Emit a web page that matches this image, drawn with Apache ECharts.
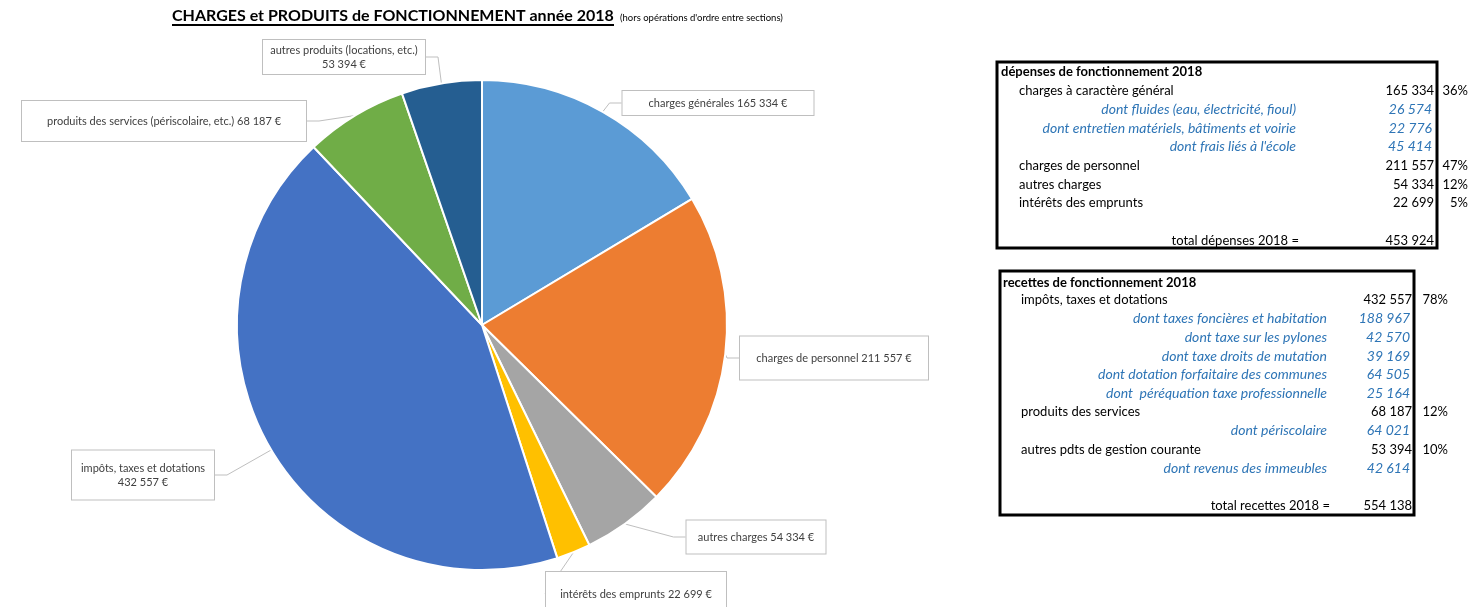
<!DOCTYPE html>
<html>
<head>
<meta charset="utf-8">
<script src="https://cdn.jsdelivr.net/npm/echarts@6/dist/echarts.min.js"></script>
<style>
html,body{margin:0;padding:0;background:#fff;}
#chart{width:1472px;height:607px;}
</style>
</head>
<body>
<div id="chart"></div>
<script>
// ---- pie data ----
const pieNames = ['charges générales', 'charges de personnel', 'autres charges', 'intérêts des emprunts',
  'impôts, taxes et dotations', 'produits des services (périscolaire, etc.)', 'autres produits (locations, etc.)'];
const pieValues = [165334, 211557, 54334, 22699, 432557, 68187, 53394];
const pieSep = [' ', ' ', ' ', ' ', '\n', ' ', '\n'];
const pieColors = ['#5B9BD5', '#ED7D31', '#A5A5A5', '#FFC000', '#4472C4', '#70AD47', '#255E91'];

// ---- table: dépenses ----
const depTitle = 'dépenses de fonctionnement 2018';
const depLabels = ['charges à caractère général', 'dont fluides (eau, électricité, fioul)',
  'dont entretien matériels, bâtiments et voirie', "dont frais liés à l'école",
  'charges de personnel', 'autres charges', 'intérêts des emprunts', '', 'total dépenses 2018 ='];
const depValues = [165334, 26574, 22776, 45414, 211557, 54334, 22699, null, 453924];
const depPct = ['36%', '', '', '', '47%', '12%', '5%', '', ''];
const depKind = ['main', 'sub', 'sub', 'sub', 'main', 'main', 'main', 'blank', 'total'];

// ---- table: recettes ----
const recTitle = 'recettes de fonctionnement 2018';
const recLabels = ['impôts, taxes et dotations', 'dont taxes foncières et habitation', 'dont taxe sur les pylones',
  'dont taxe droits de mutation', 'dont dotation forfaitaire des communes', 'dont  péréquation taxe professionnelle',
  'produits des services', 'dont périscolaire', 'autres pdts de gestion courante', 'dont revenus des immeubles',
  '', 'total recettes 2018 ='];
const recValues = [432557, 188967, 42570, 39169, 64505, 25164, 68187, 64021, 53394, 42614, null, 554138];
const recPct = ['78%', '', '', '', '', '', '12%', '', '10%', '', '', ''];
const recKind = ['main', 'sub', 'sub', 'sub', 'sub', 'sub', 'main', 'sub', 'main', 'sub', 'blank', 'total'];

const titleText = 'CHARGES et PRODUITS de FONCTIONNEMENT année 2018';
const subTitleText = "(hors opérations d'ordre entre sections)";

// ---- layout (positions / sizes only) ----
const labelBoxes = [ // [centerX, centerY, width, height]
  [718, 103, 191, 24],
  [834, 358, 188, 43],
  [756, 537, 139, 33],
  [636, 594, 180, 44],
  [143, 475, 142, 49],
  [164, 121, 284, 40],
  [344, 57, 162, 34]
];

function fmt(v) {
  return String(v).replace(/\B(?=(\d{3})+(?!\d))/g, ' ');
}

const FONT = 'Lato, "Noto Sans", sans-serif';
const BLUE = '#2E75B6';

function buildTable(cfg) {
  const els = [];
  els.push({type: 'rect', shape: {x: cfg.box[0], y: cfg.box[1], width: cfg.box[2], height: cfg.box[3]},
    style: {fill: 'none', stroke: '#000', lineWidth: 3}, z: 10});
  els.push({type: 'text', x: cfg.titleX, y: cfg.titleY, z: 11,
    style: {text: cfg.title, font: 'bold 13px ' + FONT, fill: '#000', align: 'left', verticalAlign: 'middle'}});
  cfg.labels.forEach((lab, i) => {
    const y = cfg.rowY0 + i * cfg.step;
    const k = cfg.kind[i];
    if (k === 'blank') return;
    const italic = k === 'sub';
    const font = italic ? 'italic 14px ' + FONT : '13px ' + FONT;
    const col = italic ? BLUE : '#000';
    if (k === 'main') {
      els.push({type: 'text', x: cfg.mainX, y: y, z: 11, style: {text: lab, font, fill: col, align: 'left', verticalAlign: 'middle'}});
    } else if (k === 'sub') {
      els.push({type: 'text', x: cfg.subX, y: y, z: 11, style: {text: lab, font, fill: col, align: 'right', verticalAlign: 'middle'}});
    } else {
      els.push({type: 'text', x: cfg.totalX, y: y, z: 11, style: {text: lab, font, fill: col, align: 'right', verticalAlign: 'middle'}});
    }
    if (cfg.values[i] != null) {
      els.push({type: 'text', x: italic ? cfg.valX - 2 : cfg.valX, y: y, z: 11,
        style: {text: fmt(cfg.values[i]), font, fill: col, align: 'right', verticalAlign: 'middle'}});
    }
    if (cfg.pct[i]) {
      els.push({type: 'text', x: cfg.pctX, y: y, z: 11,
        style: {text: cfg.pct[i], font: '13px ' + FONT, fill: '#000', align: 'right', verticalAlign: 'middle'}});
    }
  });
  return els;
}

const graphics = [];
graphics.push({type: 'text', x: 172, y: 16, z: 11,
  style: {text: titleText, font: 'bold 16px ' + FONT, fill: '#000', align: 'left', verticalAlign: 'middle'}});
graphics.push({type: 'line', shape: {x1: 172, y1: 25, x2: 614, y2: 25}, style: {stroke: '#000', lineWidth: 2}, z: 11});
graphics.push({type: 'text', x: 620, y: 18, z: 11,
  style: {text: subTitleText, font: '9.5px ' + FONT, fill: '#000', align: 'left', verticalAlign: 'middle'}});

graphics.push(...buildTable({
  box: [997, 62, 440, 186], title: depTitle, titleX: 1001, titleY: 72,
  labels: depLabels, values: depValues, pct: depPct, kind: depKind,
  rowY0: 90.5, step: 18.8, mainX: 1019, subX: 1296, totalX: 1299, valX: 1434, pctX: 1468
}));
graphics.push(...buildTable({
  box: [1000, 271, 414, 244], title: recTitle, titleX: 1003, titleY: 283,
  labels: recLabels, values: recValues, pct: recPct, kind: recKind,
  rowY0: 300, step: 18.7, mainX: 1021, subX: 1327, totalX: 1330, valX: 1412, pctX: 1448
}));

const pieData = pieNames.map((n, i) => {
  const b = labelBoxes[i];
  const lines = pieSep[i] === '\n' ? 2 : 1;
  const lh = 14;
  const padV = Math.max(0, (b[3] - lines * lh) / 2);
  return {
    name: n, value: pieValues[i],
    itemStyle: {color: pieColors[i]},
    label: {width: b[2] - 2, padding: [padV, 1, padV, 1]}
  };
});

const chart = echarts.init(document.getElementById('chart'), null, {renderer: 'canvas'});
chart.setOption({
  backgroundColor: '#fff',
  animation: false,
  graphic: graphics,
  series: [{
    type: 'pie',
    center: [482, 325],
    radius: 245,
    startAngle: 90,
    clockwise: true,
    avoidLabelOverlap: false,
    itemStyle: {borderColor: '#fff', borderWidth: 2},
    data: pieData,
    label: {
      show: true,
      formatter: p => p.name + pieSep[p.dataIndex] + fmt(p.value) + ' €',
      fontFamily: FONT,
      fontSize: 11,
      lineHeight: 14,
      color: '#404040',
      backgroundColor: '#fff',
      borderColor: '#bfbfbf',
      borderWidth: 1,
      align: 'center'
    },
    labelLine: {show: true, length: 10, length2: 12, smooth: false, lineStyle: {color: '#bfbfbf', width: 1}},
    labelLayout: function (params) {
      const b = labelBoxes[params.dataIndex];
      return {x: b[0], y: b[1], align: 'center', verticalAlign: 'middle'};
    },
    emphasis: {disabled: true}
  }]
});
</script>
</body>
</html>
